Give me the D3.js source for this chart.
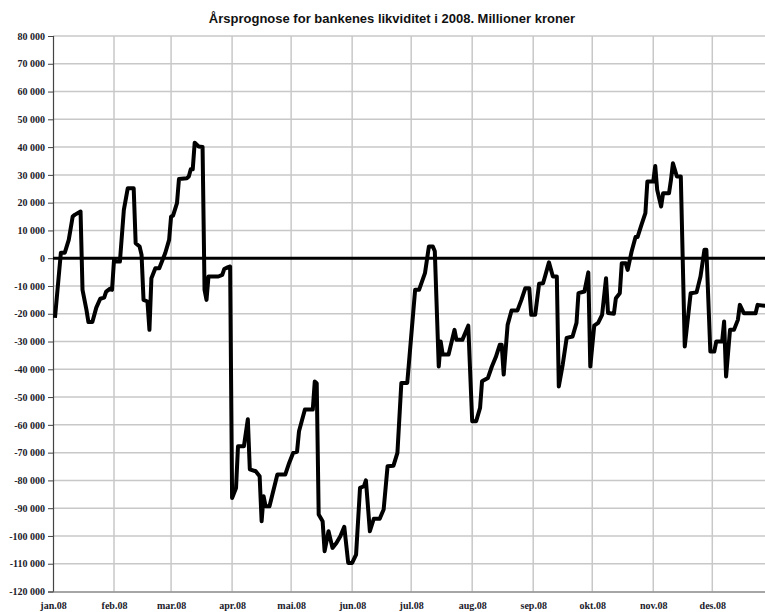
<!DOCTYPE html>
<html>
<head>
<meta charset="utf-8">
<script src="https://cdn.jsdelivr.net/npm/d3@7"></script>
<style>
  html, body { margin: 0; padding: 0; background: #fff; }
  svg { display: block; }
</style>
</head>
<body>
<svg id="chart" width="765" height="612"></svg>
<script>
const title = "Årsprognose for bankenes likviditet i 2008. Millioner kroner";

const dates = [
  "2008-01-02","2008-01-05","2008-01-06","2008-01-07","2008-01-09","2008-01-11","2008-01-12","2008-01-15","2008-01-16","2008-01-18",
  "2008-01-19","2008-01-21","2008-01-23","2008-01-25","2008-01-27","2008-01-28","2008-01-30","2008-01-31","2008-02-01","2008-02-02",
  "2008-02-04","2008-02-06","2008-02-08","2008-02-11","2008-02-12","2008-02-14","2008-02-15","2008-02-16","2008-02-18","2008-02-19",
  "2008-02-20","2008-02-22","2008-02-24","2008-02-27","2008-02-29","2008-03-01","2008-03-02","2008-03-04","2008-03-05","2008-03-09",
  "2008-03-10","2008-03-11","2008-03-12","2008-03-13","2008-03-15","2008-03-17","2008-03-18","2008-03-19","2008-03-20","2008-03-25",
  "2008-03-27","2008-03-28","2008-03-30","2008-03-31","2008-04-01","2008-04-03","2008-04-04","2008-04-07","2008-04-09","2008-04-10",
  "2008-04-13","2008-04-15","2008-04-16","2008-04-17","2008-04-18","2008-04-20","2008-04-24","2008-04-28","2008-04-30","2008-05-02",
  "2008-05-04","2008-05-05","2008-05-08","2008-05-12","2008-05-13","2008-05-14","2008-05-15","2008-05-17","2008-05-18","2008-05-20",
  "2008-05-22","2008-05-24","2008-05-26","2008-05-28","2008-05-30","2008-06-01","2008-06-03","2008-06-05","2008-06-07","2008-06-08",
  "2008-06-10","2008-06-12","2008-06-15","2008-06-17","2008-06-19","2008-06-22","2008-06-24","2008-06-26","2008-06-29","2008-07-01",
  "2008-07-03","2008-07-05","2008-07-08","2008-07-10","2008-07-12","2008-07-13","2008-07-15","2008-07-16","2008-07-17","2008-07-20",
  "2008-07-23","2008-07-24","2008-07-27","2008-07-30","2008-08-01","2008-08-03","2008-08-05","2008-08-06","2008-08-09","2008-08-11",
  "2008-08-13","2008-08-15","2008-08-16","2008-08-17","2008-08-19","2008-08-21","2008-08-24","2008-08-26","2008-08-28","2008-08-30",
  "2008-08-31","2008-09-02","2008-09-04","2008-09-06","2008-09-07","2008-09-09","2008-09-11","2008-09-13","2008-09-14","2008-09-16",
  "2008-09-18","2008-09-21","2008-09-23","2008-09-24","2008-09-27","2008-09-29","2008-09-30","2008-10-02","2008-10-04","2008-10-06",
  "2008-10-08","2008-10-09","2008-10-12","2008-10-13","2008-10-15","2008-10-16","2008-10-18","2008-10-19","2008-10-21","2008-10-23",
  "2008-10-24","2008-10-26","2008-10-28","2008-10-29","2008-11-01","2008-11-02","2008-11-03","2008-11-05","2008-11-06","2008-11-09",
  "2008-11-10","2008-11-11","2008-11-13","2008-11-15","2008-11-17","2008-11-20","2008-11-23","2008-11-25","2008-11-27","2008-11-28",
  "2008-11-30","2008-12-02","2008-12-03","2008-12-06","2008-12-07","2008-12-08","2008-12-10","2008-12-12","2008-12-14","2008-12-15",
  "2008-12-17","2008-12-23","2008-12-24","2008-12-31"
];

const values = [
  -21500, 2000, 2000, 2000, 6600, 15000, 15600, 16800, -11400, -18600,
  -23000, -23000, -17800, -14600, -14200, -12000, -11000, -11400, -600, -1200,
  -1200, 17400, 25200, 25200, 5400, 4200, 1200, -15000, -15600, -25800,
  -7200, -3600, -3600, 1800, 6600, 15000, 15300, 19800, 28500, 28800,
  29400, 32000, 32000, 41600, 40200, 40000, -11400, -15000, -6600, -6600,
  -6000, -3900, -3200, -3000, -86300, -82700, -67700, -67700, -58000, -76000,
  -76700, -78500, -94700, -85700, -89300, -89300, -77900, -77900, -73700, -70100,
  -69700, -62300, -54500, -54500, -44400, -45000, -92300, -94700, -105500, -98300,
  -104300, -102500, -100100, -96700, -109700, -109700, -106700, -82700, -82100, -80000,
  -98300, -93800, -93800, -90500, -74900, -74700, -70100, -44900, -44900, -28200,
  -11400, -11400, -5400, 4200, 4200, 2500, -39000, -30000, -34700, -34700,
  -25800, -29400, -29400, -24300, -58700, -58700, -53900, -44300, -43100, -39000,
  -35600, -31200, -31200, -41900, -24000, -18800, -18800, -15000, -10800, -10800,
  -20400, -20400, -9200, -9000, -6600, -1500, -6600, -6600, -46200, -38300,
  -28700, -28200, -23300, -12600, -12000, -5100, -39000, -24300, -23300, -20400,
  -7200, -19700, -20000, -14400, -12600, -1800, -1800, -4200, 2400, 7600,
  7600, 12000, 16200, 27600, 27600, 33200, 24600, 18600, 23400, 23400,
  28200, 34200, 29400, 29400, -31800, -12600, -12300, -6600, 3000, 3000,
  -33600, -33600, -30000, -30000, -22800, -42600, -25800, -25800, -22200, -16800,
  -19800, -19800, -16800, -17400
];

const yTicks = d3.range(-120000, 80001, 10000);
const monthNames = ["jan","feb","mar","apr","mai","jun","jul","aug","sep","okt","nov","des"];
const monthTicks = monthNames.map((m, i) => new Date(2008, i, 1));

const parse = d3.timeParse("%Y-%m-%d");
const data = dates.map((d, i) => ({ date: parse(d), value: values[i] }));

const svg = d3.select("#chart");
const x0 = 53, pxPerDay = (712.3 - 53) / 335;
const x = d3.scaleTime()
  .domain([new Date(2008, 0, 1), new Date(2009, 0, 1)])
  .range([x0, x0 + 366 * pxPerDay]);
const y = d3.scaleLinear().domain([-120000, 80000]).range([591.5, 36]);

const fmt = v => {
  const s = d3.format(",")(Math.abs(v)).replace(/,/g, " ");
  return (v < 0 ? "-" : "") + s;
};

// gridlines
const grid = svg.append("g");
grid.selectAll("line.h").data(yTicks.filter(t => t !== 0 && t !== -120000)).join("line")
  .attr("x1", x0).attr("x2", 765)
  .attr("y1", d => y(d)).attr("y2", d => y(d))
  .attr("stroke", "#c8c8c8").attr("stroke-width", 1.5);
grid.selectAll("line.v").data(monthTicks.slice(1)).join("line")
  .attr("x1", d => x(d)).attr("x2", d => x(d))
  .attr("y1", y(80000)).attr("y2", y(-120000))
  .attr("stroke", "#c8c8c8").attr("stroke-width", 1.5);

// y axis
const yAxis = d3.axisLeft(y).tickValues(yTicks).tickFormat(fmt).tickSize(5).tickPadding(3);
const gy = svg.append("g").attr("transform", `translate(${x0},0)`).call(yAxis);
gy.select(".domain").attr("stroke", "#444").attr("stroke-width", 1.2);
gy.selectAll(".tick line").attr("stroke", "#444");
gy.selectAll("text")
  .attr("font-family", "'Liberation Serif', 'Times New Roman', serif")
  .attr("font-weight", "bold").attr("font-size", 10).attr("fill", "#1a1a2a");

// x axis
const xAxis = d3.axisBottom(x).tickValues(monthTicks)
  .tickFormat((d, i) => monthNames[i] + ".08").tickSize(0).tickPadding(10);
const gx = svg.append("g").attr("transform", `translate(0,${y(-120000)})`).call(xAxis);
gx.select(".domain").attr("stroke", "#888").attr("stroke-width", 1.5);
gx.selectAll("text")
  .attr("font-family", "'Liberation Serif', 'Times New Roman', serif")
  .attr("font-weight", "bold").attr("font-size", 10).attr("fill", "#1a1a2a");

// zero line
svg.append("line")
  .attr("x1", x0).attr("x2", 765)
  .attr("y1", y(0)).attr("y2", y(0))
  .attr("stroke", "#000").attr("stroke-width", 3);

// data line
svg.append("path").datum(data)
  .attr("fill", "none").attr("stroke", "#000").attr("stroke-width", 4)
  .attr("stroke-linejoin", "round")
  .attr("d", d3.line().x(d => x(d.date)).y(d => y(d.value)));

// title
svg.append("text")
  .attr("x", 392).attr("y", 23).attr("text-anchor", "middle")
  .attr("font-family", "'Liberation Sans Narrow', 'Arial Narrow', 'Liberation Sans', sans-serif")
  .attr("font-weight", "bold").attr("font-size", 13).attr("fill", "#111")
  .text(title);
</script>
</body>
</html>
